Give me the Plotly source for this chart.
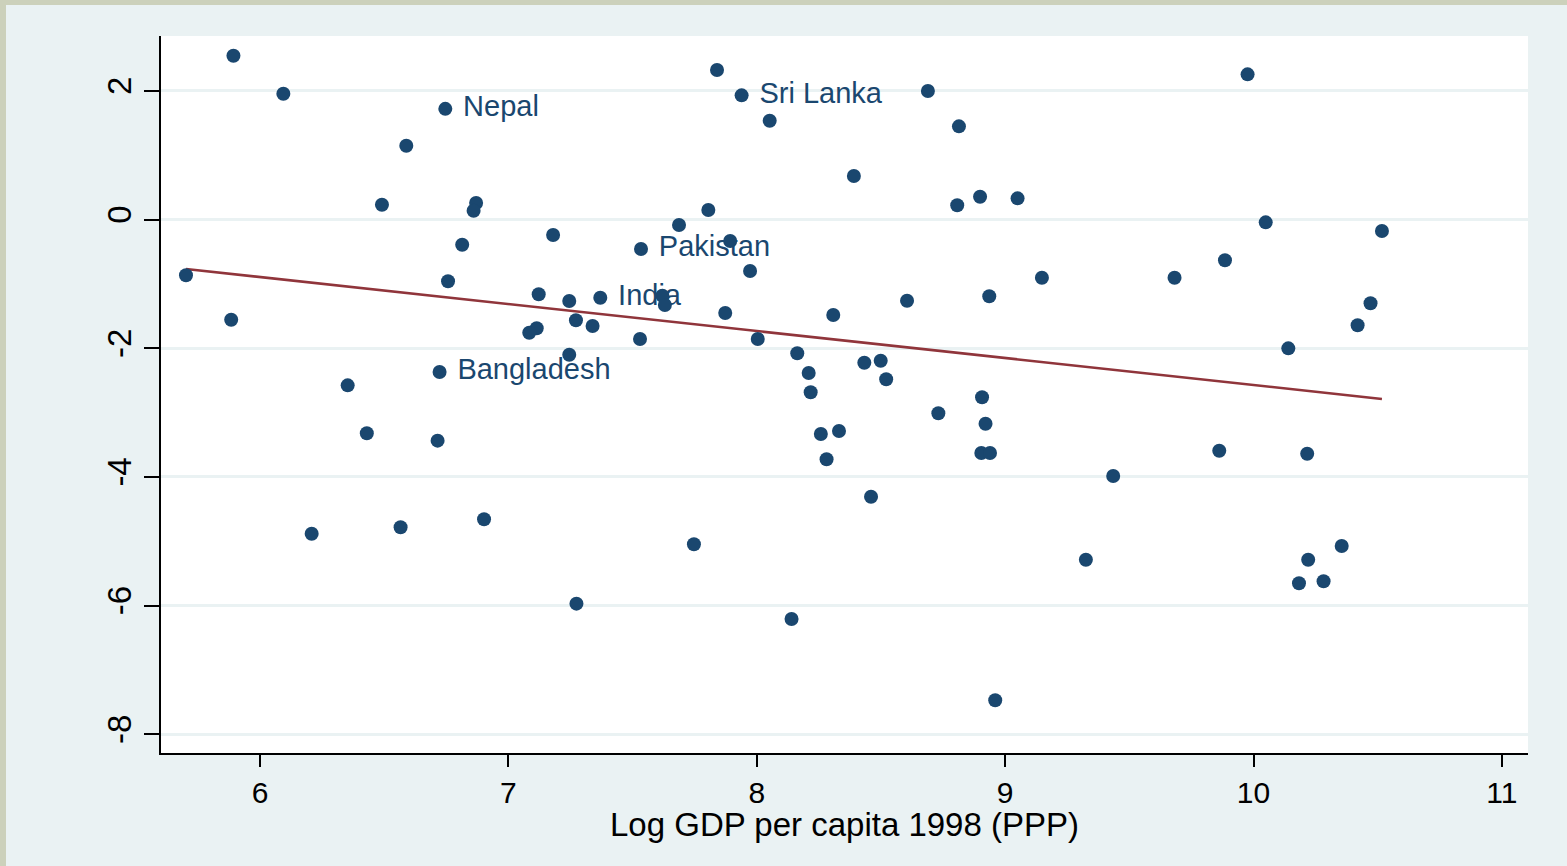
import numpy as np
import plotly.graph_objects as go

# Log GDP per capita 1998 (PPP) and the y-variable
log_gdp = [5.702, 5.893, 6.094, 6.746, 6.589, 6.491, 6.870, 6.860, 7.180, 6.814,
           7.534, 6.757, 7.122, 7.245, 7.370, 7.620, 7.630, 5.884, 7.272, 7.114,
           7.084, 7.339, 7.530, 7.245, 6.723, 6.353, 6.430, 6.715, 6.208, 6.566,
           6.902, 7.840, 7.939, 8.689, 8.052, 8.814, 8.391, 8.807, 8.899, 9.050,
           7.805, 7.687, 7.893, 7.973, 9.148, 9.682, 8.605, 8.936, 7.873, 8.308,
           8.004, 8.163, 8.209, 8.217, 8.433, 8.499, 8.521, 8.907, 8.731, 8.921,
           8.258, 8.331, 8.281, 8.904, 8.939, 9.435, 8.460, 7.747, 9.325, 9.976,
           10.049, 10.517, 9.885, 10.471, 10.419, 10.140, 9.862, 10.216, 10.355, 10.220,
           10.183, 10.282, 7.274, 8.140, 8.960]
growth = [-0.867, 2.545, 1.955, 1.720, 1.147, 0.230, 0.256, 0.137, -0.241, -0.392,
          -0.458, -0.960, -1.162, -1.267, -1.215, -1.184, -1.329, -1.557, -1.566, -1.691,
          -1.759, -1.655, -1.857, -2.101, -2.370, -2.577, -3.322, -3.437, -4.883, -4.783,
          -4.659, 2.323, 1.930, 1.997, 1.535, 1.448, 0.676, 0.221, 0.354, 0.329,
          0.148, -0.085, -0.334, -0.800, -0.904, -0.904, -1.262, -1.193, -1.453, -1.484,
          -1.857, -2.079, -2.385, -2.685, -2.225, -2.194, -2.483, -2.763, -3.012, -3.173,
          -3.333, -3.287, -3.726, -3.629, -3.629, -3.986, -4.308, -5.047, -5.287, 2.256,
          -0.044, -0.179, -0.634, -1.302, -1.644, -2.002, -3.593, -3.640, -5.074, -5.287,
          -5.653, -5.622, -5.970, -6.208, -7.472]
country_labels = [""] * len(log_gdp)
country_labels[3] = "Nepal"
country_labels[10] = "Pakistan"
country_labels[14] = "India"
country_labels[24] = "Bangladesh"
country_labels[32] = "Sri Lanka"

# fitted line coefficients
fit_intercept = 1.623
fit_slope = -0.4195

x_ticks = [6, 7, 8, 9, 10, 11]
y_ticks = [-8, -6, -4, -2, 0, 2]
x_title = "Log GDP per capita 1998 (PPP)"

FONT = "Liberation Sans, Arial, Helvetica, sans-serif"
NAVY = "#1A476F"
MAROON = "#90353B"
BG = "#EAF2F3"

xa = np.array(log_gdp)
fit_x = np.array([xa.min(), xa.max()])
fit_y = fit_intercept + fit_slope * fit_x

fig = go.Figure()
fig.add_trace(go.Scatter(
    x=fit_x, y=fit_y, mode="lines",
    line=dict(color=MAROON, width=2.6), showlegend=False))
fig.add_trace(go.Scatter(
    x=log_gdp, y=growth, mode="markers+text",
    text=[(" " + s) if s else "" for s in country_labels],
    textposition="middle right",
    textfont=dict(family=FONT, size=29, color=NAVY),
    marker=dict(color=NAVY, size=14, line=dict(width=0)),
    cliponaxis=False, showlegend=False, hoverinfo="x+y"))

W, H = 1567, 866
ml, mr, mt, mb = 161, 39, 36, 113
pw, ph = W - ml - mr, H - mt - mb
# outer frame (top and left strips) in paper coordinates
fig.add_shape(type="rect", xref="paper", yref="paper",
              x0=-ml / pw, x1=(W - ml) / pw, y0=1 + (mt - 5) / ph, y1=1 + mt / ph,
              fillcolor="#CCD1BB", line=dict(width=0), layer="below")
fig.add_shape(type="rect", xref="paper", yref="paper",
              x0=-ml / pw, x1=(6 - ml) / pw, y0=-mb / ph, y1=1 + mt / ph,
              fillcolor="#CCD1BB", line=dict(width=0), layer="below")

# x-axis title placed as an annotation just under the tick labels
fig.add_annotation(text=x_title, xref="paper", yref="paper", x=0.5, y=-71 / ph,
                   xanchor="center", yanchor="middle", showarrow=False,
                   font=dict(family=FONT, size=33, color="black"))

fig.update_layout(
    width=W, height=H,
    margin=dict(l=ml, r=mr, t=mt, b=mb, pad=0),
    paper_bgcolor=BG, plot_bgcolor="white",
    font=dict(family=FONT, color="black"),
    xaxis=dict(range=[5.6014, 11.105], tickvals=x_ticks, ticktext=[str(v) for v in x_ticks],
               showgrid=False, zeroline=False, showline=True, linecolor="black", linewidth=1.5,
               ticks="outside", ticklen=12, tickwidth=1.5, tickcolor="black",
               tickfont=dict(size=30, family=FONT)),
    yaxis=dict(range=[-8.291, 2.852], tickvals=y_ticks, ticktext=[str(v) for v in y_ticks],
               showgrid=True, gridcolor=BG, gridwidth=2.5, zeroline=False,
               showline=True, linecolor="black", linewidth=1.5,
               ticks="outside", ticklen=15, tickwidth=1.5, tickcolor="black",
               tickangle=-90, tickfont=dict(size=33, family=FONT)),
)

fig.write_html("out.html", config={"displayModeBar": False},
               post_script="document.body.style.margin='0';document.body.style.padding='0';"
                           "document.body.style.background='#EAF2F3';")
